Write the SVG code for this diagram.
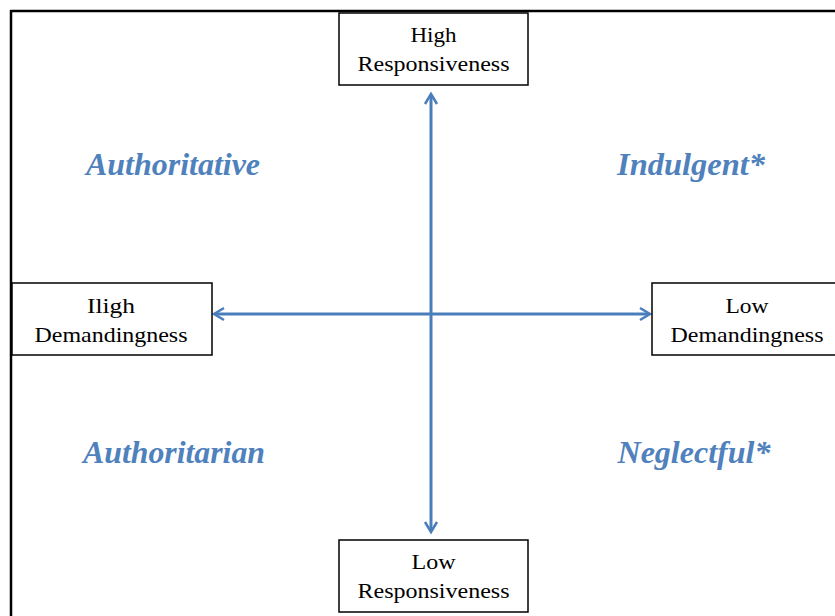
<svg xmlns="http://www.w3.org/2000/svg" width="835" height="616" viewBox="0 0 835 616">
<style>
.box{fill:#fff;stroke:#000;stroke-width:1.5}
.bt{font-family:"Liberation Serif",serif;font-size:22px;fill:#000;text-anchor:middle}
.q{font-family:"Liberation Serif",serif;font-size:32px;font-weight:bold;font-style:italic;fill:#4f81bd;text-anchor:middle}
.ax{stroke:#4a7ebb;stroke-width:3;fill:none}
.ah{stroke:#4a7ebb;stroke-width:2.5;fill:none;stroke-linejoin:miter}
</style>
<rect x="0" y="0" width="835" height="616" fill="#fff"/>
<g id="frame">
<line x1="10" y1="11" x2="835" y2="11" stroke="#000" stroke-width="2.5"/>
<line x1="11" y1="10" x2="11" y2="616" stroke="#000" stroke-width="2.5"/>
</g>
<g id="connectors">
<line class="ax" x1="431" y1="95" x2="431" y2="531"/>
<line class="ax" x1="215" y1="314" x2="649" y2="314"/>
<polyline class="ah" points="425,104 431,94 437,104"/>
<polyline class="ah" points="425,522 431,532 437,522"/>
<polyline class="ah" points="224,308 214,314 224,320"/>
<polyline class="ah" points="640,308 650,314 640,320"/>
</g>
<g id="high-responsiveness">
<rect class="box" x="339" y="13" width="189" height="72"/>
<text class="bt" x="433.5" y="42" textLength="46" lengthAdjust="spacingAndGlyphs">High</text>
<text class="bt" x="433.5" y="71" textLength="152" lengthAdjust="spacingAndGlyphs">Responsiveness</text>
</g>
<g id="low-responsiveness">
<rect class="box" x="339" y="540" width="189" height="72"/>
<text class="bt" x="433.5" y="569" textLength="44" lengthAdjust="spacingAndGlyphs">Low</text>
<text class="bt" x="433.5" y="598" textLength="152" lengthAdjust="spacingAndGlyphs">Responsiveness</text>
</g>
<g id="high-demandingness">
<rect class="box" x="12" y="283" width="200" height="72"/>
<text class="bt" x="111" y="313" textLength="48" lengthAdjust="spacingAndGlyphs">Iligh</text>
<text class="bt" x="111" y="342" textLength="153" lengthAdjust="spacingAndGlyphs">Demandingness</text>
</g>
<g id="low-demandingness">
<rect class="box" x="652" y="283" width="190" height="72"/>
<text class="bt" x="747" y="313" textLength="43" lengthAdjust="spacingAndGlyphs">Low</text>
<text class="bt" x="747" y="342" textLength="153" lengthAdjust="spacingAndGlyphs">Demandingness</text>
</g>
<g id="authoritative"><text class="q" x="173" y="175" textLength="174" lengthAdjust="spacingAndGlyphs">Authoritative</text></g>
<g id="indulgent"><text class="q" x="691" y="175" textLength="148" lengthAdjust="spacingAndGlyphs">Indulgent*</text></g>
<g id="authoritarian"><text class="q" x="174" y="463" textLength="182" lengthAdjust="spacingAndGlyphs">Authoritarian</text></g>
<g id="neglectful"><text class="q" x="694" y="463" textLength="153" lengthAdjust="spacingAndGlyphs">Neglectful*</text></g>
</svg>
